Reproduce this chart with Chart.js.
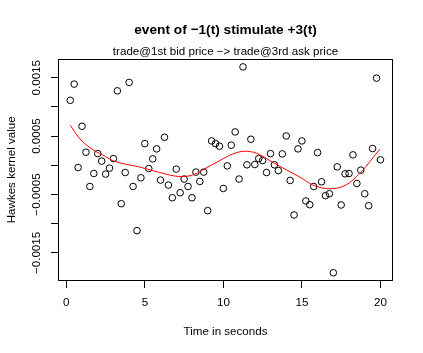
<!DOCTYPE html>
<html>
<head>
<meta charset="utf-8">
<script src="https://cdn.jsdelivr.net/npm/chart.js@4.4.1/dist/chart.umd.min.js"></script>
<style>
  html, body { margin: 0; padding: 0; background: #fff; }
</style>
</head>
<body>
<canvas id="kernelChart" width="423" height="353"></canvas>
<script>
// lag of each estimate (seconds)
const times = [
  0.25, 0.5, 0.75, 1.0, 1.25, 1.5, 1.75, 2.0, 2.25, 2.5,
  2.75, 3.0, 3.25, 3.5, 3.75, 4.0, 4.25, 4.5, 4.75, 5.0,
  5.25, 5.5, 5.75, 6.0, 6.25, 6.5, 6.75, 7.0, 7.25, 7.5,
  7.75, 8.0, 8.25, 8.5, 8.75, 9.0, 9.25, 9.5, 9.75, 10.0,
  10.25, 10.5, 10.75, 11.0, 11.25, 11.5, 11.75, 12.0, 12.25, 12.5,
  12.75, 13.0, 13.25, 13.5, 13.75, 14.0, 14.25, 14.5, 14.75, 15.0,
  15.25, 15.5, 15.75, 16.0, 16.25, 16.5, 16.75, 17.0, 17.25, 17.5,
  17.75, 18.0, 18.25, 18.5, 18.75, 19.0, 19.25, 19.5, 19.75, 20.0
];

// estimated kernel values (open circles)
const kernelValues = [
  0.001113, 0.001391, -0.000038, 0.000669, 0.000225, -0.000362, -0.000140, 0.000201, 0.000072, -0.000150,
  -0.000048, 0.000116, 0.001276, -0.000657, -0.000123, 0.001420, -0.000362, -0.001118, -0.000213, 0.000372,
  -0.000055, 0.000111, 0.000282, -0.000253, 0.000481, -0.000338, -0.000555, -0.000065, -0.000469, -0.000235,
  -0.000362, -0.000555, -0.000116, -0.000276, -0.000116, -0.000776, 0.000418, 0.000372, 0.000328, -0.000396,
  -0.000009, 0.000345, 0.000572, -0.000235, 0.001686, 0.000009, 0.000447, 0.000014, 0.000116, 0.000082,
  -0.000123, 0.000201, 0.000009, -0.000089, 0.000196, 0.000503, -0.000259, -0.000850, 0.000282, 0.000418,
  -0.000611, -0.000674, -0.000362, 0.000218, -0.000282, -0.000520, -0.000486, -0.001840, -0.000026, -0.000679,
  -0.000145, -0.000140, 0.000179, -0.000311, -0.000082, -0.000486, -0.000691, 0.000287, 0.001493, 0.000094
];

// smoothed fit (red line)
const smoothTimes = [0.25, 0.87, 1.72, 2.5, 3.0, 4.7, 5.96, 7.23, 7.87, 8.5, 9.14, 9.78, 10.6, 11.37, 12.1, 12.96, 14.0, 14.87, 15.7, 16.78, 17.8, 18.7, 19.96];
const smoothValues = [0.000686, 0.000452, 0.000265, 0.000150, 0.000077, -0.000031, -0.000123, -0.000191, -0.000179, -0.000106, -0.000009, 0.000082, 0.000196, 0.000242, 0.000208, 0.000082, -0.000077, -0.000201, -0.000338, -0.000401, -0.000338, -0.000133, 0.000276];

const xTickStep = 5;
const yTickStep = 0.0005;

const FONT = '"Liberation Sans", Arial, Helvetica, sans-serif';

// R style box + vertical y tick labels
const rFrame = {
  id: 'rFrame',
  afterDraw(chart) {
    const { ctx, chartArea: a, scales: { y } } = chart;
    ctx.save();
    ctx.strokeStyle = '#000';
    ctx.lineWidth = 1;
    ctx.strokeRect(Math.round(a.left) + 0.5, Math.round(a.top) + 0.5, Math.round(a.width) - 1, Math.round(a.height) - 1);
    ctx.font = '11.6px ' + FONT;
    ctx.fillStyle = '#000';
    ctx.textAlign = 'center';
    ctx.textBaseline = 'middle';
    y.ticks.forEach(t => {
      if (!t.label) return;
      ctx.save();
      ctx.translate(a.left - 21, y.getPixelForValue(t.value));
      ctx.rotate(-Math.PI / 2);
      ctx.fillText(t.label, 0, 0);
      ctx.restore();
    });
    ctx.restore();
  }
};

const ctx = document.getElementById('kernelChart').getContext('2d');
const kernelChart = new Chart(ctx, {
  type: 'scatter',
  data: {
    datasets: [
      {
        label: 'smooth',
        data: smoothTimes.map((t, i) => ({ x: t, y: smoothValues[i] })),
        showLine: true,
        borderColor: '#ff0000',
        borderWidth: 1,
        pointRadius: 0,
        cubicInterpolationMode: 'monotone'
      },
      {
        label: 'kernel',
        data: times.map((t, i) => ({ x: t, y: kernelValues[i] })),
        showLine: false,
        pointStyle: 'circle',
        pointRadius: 3.3,
        pointBorderWidth: 1,
        pointBorderColor: '#000',
        pointBackgroundColor: 'rgba(0,0,0,0)'
      }
    ]
  },
  options: {
    responsive: false,
    animation: false,
    layout: { padding: { left: 0, right: 30, top: 0, bottom: 0 } },
    plugins: {
      legend: { display: false },
      tooltip: { enabled: false },
      title: {
        display: true,
        fullSize: false,
        text: 'event of \u22121(t) stimulate +3(t)',
        color: '#000',
        font: { family: FONT, size: 13.7, weight: 'bold' },
        padding: { top: 22, bottom: 6.3 }
      },
      subtitle: {
        display: true,
        fullSize: false,
        text: 'trade@1st bid price \u2212> trade@3rd ask price',
        color: '#000',
        font: { family: FONT, size: 11.6 },
        padding: { top: 0, bottom: 0 }
      }
    },
    scales: {
      x: {
        type: 'linear',
        min: -0.53,
        max: 20.8,
        afterFit: s => { s.height = 72; },
        border: { display: false },
        grid: { drawOnChartArea: false, drawTicks: true, tickLength: 7, color: '#000' },
        ticks: {
          stepSize: xTickStep,
          includeBounds: false,
          color: '#000',
          padding: 8,
          maxRotation: 0,
          font: { family: FONT, size: 11.6 }
        },
        title: {
          display: true,
          text: 'Time in seconds',
          color: '#000',
          font: { family: FONT, size: 11.6 },
          padding: { top: 0, bottom: 14.5 }
        }
      },
      y: {
        type: 'linear',
        min: -0.001981,
        max: 0.001827,
        afterFit: s => { s.width = 58; },
        border: { display: false },
        grid: { drawOnChartArea: false, drawTicks: true, tickLength: 7, color: '#000' },
        ticks: {
          display: false,
          stepSize: yTickStep,
          includeBounds: false,
          callback: v => {
            const k = Math.round(v / yTickStep);
            if (Math.abs(k) % 2 !== 1) return '';
            return (v < 0 ? '\u2212' : '') + Math.abs(k * yTickStep).toFixed(4);
          }
        },
        title: {
          display: true,
          text: 'Hawkes kernel value',
          color: '#000',
          font: { family: FONT, size: 11.6 },
          padding: { top: 5, bottom: 0 }
        }
      }
    }
  },
  plugins: [rFrame]
});
</script>
</body>
</html>
